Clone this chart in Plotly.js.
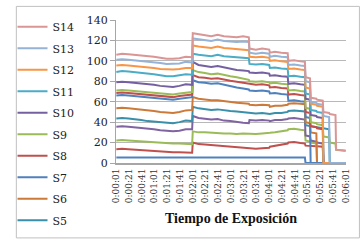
<!DOCTYPE html>
<html>
<head>
<meta charset="utf-8">
<script src="https://cdn.plot.ly/plotly-3.0.1.min.js"></script>
<style>html,body{margin:0;padding:0;background:#fff;}#chart{width:363px;height:243px;}</style>
</head>
<body>
<div id="chart"></div>
<script>
// time in seconds from start (0:00:01 .. 0:06:01)
var times = [1,10,20,30,40,50,60,70,80,90,100,110,120,
  121,130,140,150,160,170,180,190,200,209,
  210,220,230,241,
  242,250,260,270,
  271,280,290,297,
  298,305,306,315,316,325,326,335,336,345,346,361];

var S14 = [106,107,106.5,106,105,104.5,104,103,102,102,102.5,104,103.5,
  127,126,124.5,124,125.5,124,123.5,123,124,123,
  112,111,112,111, 108,109,108,107.5, 100,100.5,99.5,99,
  84,83,64,63,62,61,50,49,48,47,13,12];
var S13 = [101,101.5,101,100.5,100,99,98.5,98,97,97,97.5,99,98.5,
  122,121,120,119.5,121,119.5,119,118.5,119,118.5,
  108,107,108,107, 104,105,104,103.5, 96,96.5,95.5,95,
  80,79,60,59,58,57,46,45,0,0,0,0];
var S12 = [95.5,96,95.5,95,94,93.5,93,92,91.5,91.5,92,93,93,
  115,114,113,112.5,114,112.5,112,111.5,111,110.5,
  104,103.5,104,103, 100,100.5,99.5,99, 92,92.5,91.5,91,
  74,73,58,57,56,55,0,0,0,0,0,0];
var S11 = [89,90,89.5,89,88,87.5,87,86,85,85,86,87,86.5,
  107,106,105,104.5,106,104.5,104,103.5,103,102.5,
  97,96.5,97,96, 93,93.5,92.5,92, 85,85.5,84.5,84,
  68,67,52,51,50,49,0,0,0,0,0,0];
var S10 = [79,79.5,79,78.5,77.5,77,76.5,75.5,75,74.5,75.5,77,76.5,
  99,96,95,94,95,93.5,92,91,90.5,90,
  88.5,88,88.5,87.5, 85.5,86,85,84.5, 77.5,78,77,76.5,
  63,62,47,46,45,44,0,0,0,0,0,0];
var S9 = [71,71.5,71,70.5,69.5,69,68.5,68,67.5,67,68,69,69.5,
  91,89,88,87,87.5,86,85,84,82.5,81.5,
  80,79.5,80,79, 78,78.5,77.5,77, 71,71.5,70.5,70,
  54,53,40,39,38,37,26,25,20,19,13,12];
var S8 = [68.5,69,68.5,68,67,66.5,66,65.5,65,64.5,65.5,66.5,67,
  86,84,83.5,82.5,83,81.5,80.5,79.5,78.5,77.5,
  77,76.5,77,76, 74,74.5,73.5,73, 67,67.5,66.5,66,
  50,49,36,35,34,33,0,0,0,0,0,0];
var S7 = [66,66.5,66,65.5,64.5,64,63.5,63,62.5,62,63,64,64.5,
  81,79,78.5,77.5,78,76.5,75.5,74,73,72,
  71,70.5,71,70, 68,68.5,67.5,67, 61,61.5,60.5,60,
  45,44,0,0,0,0,0,0,0,0,0,0];
var S6 = [53.5,54,53.5,53,52,51.5,51,50,49.5,49,50,51.5,52,
  64.5,63,62,61.5,61.5,60.5,60,59,58.5,58,
  57,56.5,57,56.5, 55,56,56,57, 58,58.5,58,57.5,
  40,39,30,29,0,0,0,0,0,0,0,0];
var S5 = [43.5,44,43.5,43,42,41,40.5,39.5,39,39,40,41.5,41,
  55,53.5,53,52,52.5,51.5,51,50.5,50,49.5,
  49,48.5,49,48.5, 48,49,49,50, 51,51.5,51,50.5,
  37,36,36,35,35,34,34,33,0,0,0,0];
var S4 = [35.5,36,35.5,35,34,33.5,33,32,31.5,31,31.5,33,33,
  46,44,43.5,42.5,43,41.5,41,40,39.5,39,
  42,41.5,42,41.5, 41,42,42,43, 43.5,44,43,42.5,
  27,26,22,21,20,19,0,0,0,0,0,0];
var S3 = [22,22.5,22,21.5,21,20.5,20,20,19.5,19,19,19,18.5,
  31,30,30,29.5,29.5,29,29,28.5,29,28.5,
  29,28.5,29,29, 29.5,30,31,32, 33,33.5,32.5,32,
  22,21,20,19,0,0,0,0,0,0,0,0];
var S2 = [13.5,14,13.5,13,12.5,12,11.5,11.5,11,10.5,10.5,10.5,10,
  20,18.5,18,17.5,17,16,15.5,15,14.5,14,
  14,14,14.5,15, 16,17,18,19, 20,20.5,19.5,19,
  17,17,17,16.5,16.5,16,0,0,0,0,0,0];
var S1 = [5.5,5.5,5.5,5.5,5.5,5.5,5.5,5.5,5.5,5.5,5.5,5.5,5.5,
  5.5,5.5,5.5,5.5,5.5,5.5,5.5,5.5,5.5,5.5,
  5.5,5.5,5.5,5.5, 5.5,5.5,5.5,5.5, 5.5,5.5,5.5,5.5,
  0,0,0,0,0,0,0,0,0,0,0,0];

var seriesNames = ['S1','S2','S3','S4','S5','S6','S7','S8','S9','S10','S11','S12','S13','S14'];
var seriesData = [S1,S2,S3,S4,S5,S6,S7,S8,S9,S10,S11,S12,S13,S14];
var seriesColors = ['#4F81BD','#C0504D','#9BBB59','#8064A2','#3A8FAA','#CC7A3A','#4F81BD','#C0504D','#9BBB59','#7460A0','#4BACC6','#F79646','#95B3D7','#D99694'];
var inLegend = [false,false,false,false,true,true,true,true,true,true,true,true,true,true];

var tickVals = [1,21,41,61,81,101,121,141,161,181,201,221,241,261,281,301,321,341,361];
var tickText = ['0:00:01','0:00:21','0:00:41','0:01:01','0:01:21','0:01:41','0:02:01','0:02:21','0:02:41','0:03:01','0:03:21','0:03:41','0:04:01','0:04:21','0:04:41','0:05:01','0:05:21','0:05:41','0:06:01'];

var traces = seriesNames.map(function(n,i){
  return {x: times, y: seriesData[i], name: n, type: 'scatter', mode: 'lines',
    line: {color: seriesColors[i], width: 2}, showlegend: inLegend[i], legendgroup: n,
    legendrank: 100 - i, hoverinfo: 'skip'};
});

var L = 106, R = 17, T = 16, B = 80;
var pw = 363 - L - R, ph = 243 - T - B;
function px(xp){ return (xp - L) / pw; }
function py(yp){ return (243 - B - yp) / ph; }

var layout = {
  width: 363, height: 243,
  margin: {l: L, r: R, t: T, b: B, pad: 0},
  paper_bgcolor: '#ffffff', plot_bgcolor: '#ffffff',
  showlegend: true,
  legend: {x: px(-2), y: py(8), xanchor: 'left', yanchor: 'top', traceorder: 'grouped',
    tracegroupgap: 2.5, bgcolor: 'rgba(0,0,0,0)', borderwidth: 0, maxheight: 236,
    font: {family: 'DejaVu Serif, serif', size: 11, color: '#222'}, itemwidth: 30},
  xaxis: {type: 'linear', range: [0.5, 361.5], tickmode: 'array', tickvals: tickVals, ticktext: tickText,
    tickangle: -90, tickfont: {family: 'DejaVu Serif, serif', size: 9, color: '#333'},
    showgrid: false, zeroline: false, showline: true, linecolor: '#a6a6a6', linewidth: 2,
    ticks: '', layer: 'below traces',
    title: {text: '<b>Tiempo de Exposición</b>', font: {family: 'Liberation Serif, serif', size: 14, color: '#111'}, standoff: 11}},
  yaxis: {range: [0, 140], tickvals: [0,20,40,60,80,100,120,140], showgrid: true, gridcolor: '#b8b8b8', gridwidth: 1,
    zeroline: false, showline: true, linecolor: '#a6a6a6', linewidth: 1, ticks: 'outside', ticklen: 5, tickcolor: '#a6a6a6',
    ticksuffix: '\u2002',
    tickfont: {family: 'DejaVu Serif, serif', size: 11, color: '#222'}, layer: 'below traces'},
  shapes: [{type: 'rect', xref: 'paper', yref: 'paper', x0: px(2), x1: px(360), y0: py(240), y1: py(2),
    line: {color: '#c0c0c0', width: 1}, fillcolor: 'rgba(0,0,0,0)'}]
};

Plotly.newPlot('chart', traces, layout, {staticPlot: true, displayModeBar: false});
</script>
</body>
</html>
